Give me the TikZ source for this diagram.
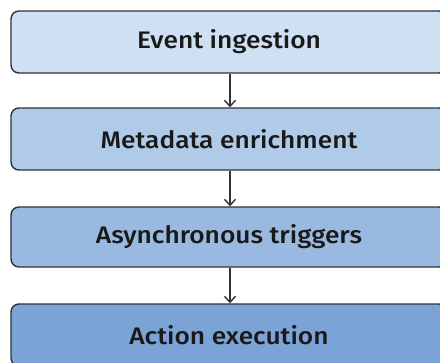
\documentclass[tikz,border=0pt]{standalone}
\usepackage{fontspec}
\setmainfont{Fira Sans Medium}[FakeStretch=1.1]
\usetikzlibrary{arrows.meta}
\definecolor{cA}{HTML}{CFE0F2}
\definecolor{cB}{HTML}{B0CBE7}
\definecolor{cC}{HTML}{9AB9E0}
\definecolor{cD}{HTML}{7BA3D6}
\definecolor{edge}{HTML}{2E3338}
\begin{document}
\begin{tikzpicture}[x=1bp,y=1bp,
  stagebox/.style={draw=edge, line width=1.4bp, rounded corners=8bp, minimum width=436bp, inner sep=0pt, font=\fontsize{24}{28}\selectfont, text=black!90},
  flow/.style={draw=edge, line width=1.4bp, -{Straight Barb[length=6bp,width=11bp,line width=1.4bp]}}]
\useasboundingbox (0,0) rectangle (440,362);
\node[stagebox, fill=cA, minimum height=62bp] (s1) at (229,320) {Event ingestion};
\node[stagebox, fill=cB, minimum height=62bp] (s2) at (229,223) {Metadata enrichment};
\node[stagebox, fill=cC, minimum height=60bp] (s3) at (229,125) {Asynchronous triggers};
\node[stagebox, fill=cD, minimum height=62bp] (s4) at (229,27) {Action execution};
\draw[flow] (s1.south -| 230,0) -- (s2.north -| 230,0);
\draw[flow] (s2.south -| 230,0) -- (s3.north -| 230,0);
\draw[flow] (s3.south -| 230,0) -- (s4.north -| 230,0);
\end{tikzpicture}
\end{document}
